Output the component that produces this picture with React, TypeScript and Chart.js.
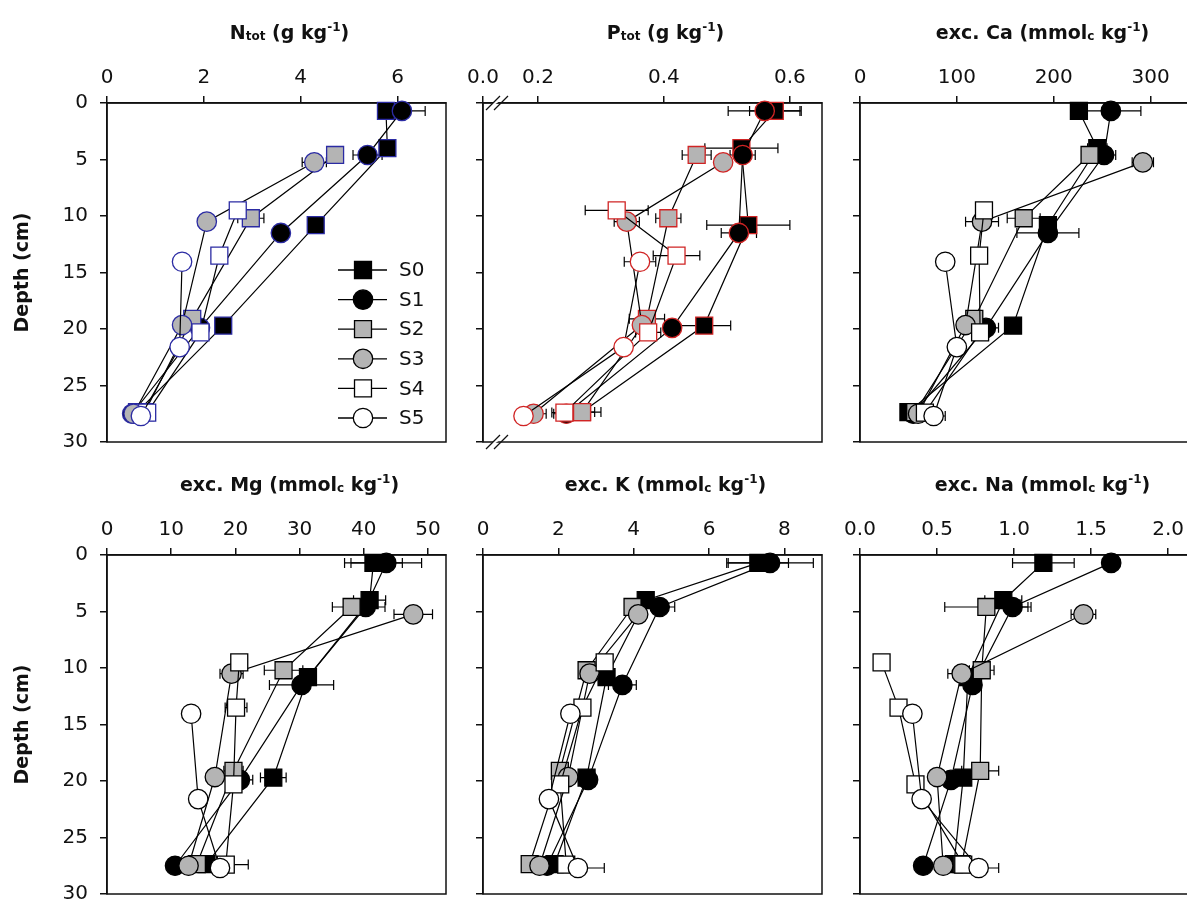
import React, { useEffect, useRef } from "react";
import { Chart, registerables } from "chart.js";

Chart.register(...registerables);

const FONT = "'DejaVu Sans', 'Liberation Sans', sans-serif";
const INK = "#111111";

const seriesNames = ["S0", "S1", "S2", "S3", "S4", "S5"];
const seriesFill = ["#000000", "#000000", "#b4b4b4", "#b4b4b4", "#ffffff", "#ffffff"];
const seriesShape = ["rect", "circle", "rect", "circle", "rect", "circle"];

// sampling depth (cm) of every horizon, per profile
const depthS = [
  [0.7, 4.0, 10.8, 19.7, 27.35],
  [0.7, 4.6, 11.5, 19.9, 27.5],
  [4.6, 10.2, 19.1, 27.35],
  [5.25, 10.5, 19.65, 27.5],
  [9.5, 13.5, 20.3, 27.4],
  [14.05, 21.6, 27.7],
];

// total N (g kg-1)
const nTotMean = [
  [5.76, 5.79, 4.31, 2.4, 0.62],
  [6.09, 5.38, 3.59, 1.92, 0.52],
  [4.71, 2.97, 1.76, 0.78],
  [4.28, 2.06, 1.55, 0.55],
  [2.7, 2.32, 1.93, 0.83],
  [1.55, 1.5, 0.7],
];
const nTotErr = [
  [0.1, 0.1, 0, 0, 0],
  [0.48, 0.3, 0.1, 0, 0],
  [0.1, 0.27, 0.1, 0],
  [0.25, 0.1, 0.17, 0],
  [0, 0, 0, 0],
  [0, 0, 0],
];

// total P (g kg-1)
const pTotMean = [
  [0.576, 0.523, 0.534, 0.464, 0.27],
  [0.56, 0.525, 0.519, 0.413, 0.245],
  [0.452, 0.407, 0.373, 0.27],
  [0.494, 0.341, 0.365, 0.193],
  [0.325, 0.42, 0.375, 0.242],
  [0.362, 0.336, 0.177],
];
const pTotErr = [
  [0.04, 0.058, 0.066, 0.042, 0.02],
  [0.058, 0.02, 0.028, 0.01, 0.02],
  [0.023, 0.02, 0.028, 0.03],
  [0.01, 0.02, 0.01, 0.02],
  [0.05, 0.037, 0.02, 0.02],
  [0.025, 0.01, 0.01],
];

// exchangeable Ca (mmolc kg-1)
const caMean = [
  [226, 245, 194, 158, 50],
  [259, 252, 194, 130, 55],
  [237, 169, 118, 57],
  [292, 126, 109, 60],
  [128, 123, 124, 67],
  [88, 100, 76],
];
const caErr = [
  [0, 10, 0, 0, 0],
  [31, 12, 32, 13, 0],
  [8, 17, 0, 0],
  [11, 17, 0, 0],
  [0, 0, 0, 0],
  [8, 0, 12],
];

// exchangeable Mg (mmolc kg-1)
const mgMean = [
  [41.5, 40.9, 31.3, 25.9, 15.5],
  [43.5, 40.3, 30.3, 20.7, 10.6],
  [38.1, 27.5, 19.7, 14.0],
  [47.7, 19.4, 16.8, 12.7],
  [20.6, 20.1, 19.7, 18.5],
  [13.1, 14.2, 17.6],
];
const mgErr = [
  [4.5, 2.5, 0, 2, 0],
  [5.5, 3, 5, 2, 0],
  [3, 3, 1.5, 0],
  [3, 1.8, 0, 0],
  [0, 1.7, 0, 3.5],
  [0, 0, 0],
];

// exchangeable K (mmolc kg-1)
const kMean = [
  [7.31, 4.32, 3.28, 2.75, 1.9],
  [7.62, 4.69, 3.7, 2.79, 1.7],
  [3.97, 2.75, 2.04, 1.24],
  [4.12, 2.83, 2.26, 1.5],
  [3.23, 2.64, 2.05, 2.21],
  [2.32, 1.75, 2.52],
];
const kErr = [
  [0.8, 0, 0, 0, 0],
  [1.15, 0.4, 0.37, 0, 0],
  [0, 0, 0, 0],
  [0, 0, 0, 0],
  [0, 0, 0, 0],
  [0, 0, 0.7],
];

// exchangeable Na (mmolc kg-1)
const naMean = [
  [1.19, 0.93, 0.7, 0.67, 0.61],
  [1.63, 0.99, 0.73, 0.59, 0.41],
  [0.82, 0.79, 0.78, 0.66],
  [1.45, 0.66, 0.5, 0.54],
  [0.14, 0.25, 0.36, 0.67],
  [0.34, 0.4, 0.77],
];
const naErr = [
  [0.2, 0.12, 0, 0, 0],
  [0.05, 0.12, 0, 0, 0],
  [0.27, 0.08, 0.12, 0],
  [0.08, 0.09, 0, 0],
  [0, 0, 0, 0],
  [0, 0, 0.13],
];

const depthTicks = [0, 5, 10, 15, 20, 25, 30];
const pTickValues = [0.2, 0.4, 0.6];
const P_AXIS_MIN = 0.1127; // left end of the broken axis, labelled 0.0

type Part = [string, "m" | "sub" | "sup"];

const titleN: Part[] = [["N", "m"], ["tot", "sub"], [" (g kg", "m"], ["-1", "sup"], [")", "m"]];
const titleP: Part[] = [["P", "m"], ["tot", "sub"], [" (g kg", "m"], ["-1", "sup"], [")", "m"]];
const excTitle = (el: string): Part[] => [
  ["exc. " + el + " (mmol", "m"], ["c", "sub"], [" kg", "m"], ["-1", "sup"], [")", "m"],
];

interface PanelDef {
  title: Part[];
  mean: number[][];
  err: number[][];
  min: number;
  max: number;
  step: number;
  dec: number;
  edge: string;
  col: number;
  row: number;
  legend?: boolean;
  broken?: boolean;
}

const panels: PanelDef[] = [
  { title: titleN, mean: nTotMean, err: nTotErr, min: 0, max: 7, step: 2, dec: 0, edge: "#2b2ba3", col: 0, row: 0, legend: true },
  { title: titleP, mean: pTotMean, err: pTotErr, min: P_AXIS_MIN, max: 0.651, step: 0.2, dec: 1, edge: "#d02424", col: 1, row: 0, broken: true },
  { title: excTitle("Ca"), mean: caMean, err: caErr, min: 0, max: 350, step: 100, dec: 0, edge: "#000000", col: 2, row: 0 },
  { title: excTitle("Mg"), mean: mgMean, err: mgErr, min: 0, max: 52.8, step: 10, dec: 0, edge: "#000000", col: 0, row: 1 },
  { title: excTitle("K"), mean: kMean, err: kErr, min: 0, max: 9, step: 2, dec: 0, edge: "#000000", col: 1, row: 1 },
  { title: excTitle("Na"), mean: naMean, err: naErr, min: 0, max: 2.2, step: 0.5, dec: 1, edge: "#000000", col: 2, row: 1 },
];

// plot box geometry
const BOX = 339;
const COL_LEFT = [107, 483, 860];
const ROW_TOP = [103, 555];
const AXIS_W = 107;
const AXIS_H = 103;
const CANVAS_W = 470;
const CANVAS_H = 470;
const RECT_R = 12;
const CIRCLE_R = 9.7;

function drawMarker(ctx: CanvasRenderingContext2D, shape: string, x: number, y: number, fill: string, edge: string) {
  ctx.beginPath();
  if (shape === "rect") {
    const s = RECT_R * Math.SQRT1_2;
    ctx.rect(x - s, y - s, 2 * s, 2 * s);
  } else {
    ctx.arc(x, y, CIRCLE_R, 0, Math.PI * 2);
  }
  ctx.fillStyle = fill;
  ctx.fill();
  ctx.lineWidth = 1.3;
  ctx.strokeStyle = edge;
  ctx.stroke();
}

function makeDecor(p: PanelDef) {
  return {
    id: "panelDecor",
    beforeDatasetsDraw(chart: any) {
      const { ctx, chartArea: a, scales } = chart;
      ctx.save();
      ctx.strokeStyle = INK;
      ctx.lineWidth = 1.5;
      ctx.strokeRect(a.left, a.top, a.right - a.left, a.bottom - a.top);
      // horizontal error bars with caps
      ctx.strokeStyle = "#000";
      ctx.lineWidth = 1.2;
      p.mean.forEach((vals, si) => {
        vals.forEach((v, j) => {
          const e = p.err[si][j];
          if (!e) return;
          const y = scales.y.getPixelForValue(depthS[si][j]);
          const x1 = scales.x.getPixelForValue(v - e);
          const x2 = scales.x.getPixelForValue(v + e);
          ctx.beginPath();
          ctx.moveTo(x1, y);
          ctx.lineTo(x2, y);
          ctx.moveTo(x1, y - 5);
          ctx.lineTo(x1, y + 5);
          ctx.moveTo(x2, y - 5);
          ctx.lineTo(x2, y + 5);
          ctx.stroke();
        });
      });
      ctx.restore();
    },
    afterDraw(chart: any) {
      const { ctx, chartArea: a } = chart;
      ctx.save();

      // axis break marks on the top and bottom edges
      if (p.broken) {
        [a.top, a.bottom].forEach((yy: number) => {
          const x0 = a.left + 3;
          ctx.beginPath();
          ctx.moveTo(x0 + 4, yy + 2);
          ctx.lineTo(x0 + 10, yy - 2);
          ctx.lineTo(x0 + 14, yy - 2);
          ctx.lineTo(x0 + 8, yy + 2);
          ctx.closePath();
          ctx.fillStyle = "#fff";
          ctx.fill();
          ctx.strokeStyle = INK;
          ctx.lineWidth = 1.3;
          ctx.beginPath();
          ctx.moveTo(x0, yy + 7);
          ctx.lineTo(x0 + 14, yy - 7);
          ctx.moveTo(x0 + 8, yy + 7);
          ctx.lineTo(x0 + 22, yy - 7);
          ctx.stroke();
        });
      }

      // panel title with sub/superscripts
      const fonts: Record<string, string> = {
        m: `bold 19px ${FONT}`,
        sub: `bold 12px ${FONT}`,
        sup: `bold 12px ${FONT}`,
      };
      const shift: Record<string, number> = { m: 0, sub: 1, sup: -8 };
      let total = 0;
      p.title.forEach(([t, k]) => {
        ctx.font = fonts[k];
        total += ctx.measureText(t).width;
      });
      let x = (a.left + a.right) / 2 + 13 - total / 2;
      const base = a.top - 64;
      ctx.fillStyle = INK;
      ctx.textBaseline = "alphabetic";
      ctx.textAlign = "left";
      p.title.forEach(([t, k]) => {
        ctx.font = fonts[k];
        ctx.fillText(t, x, base + shift[k]);
        x += ctx.measureText(t).width;
      });

      // series legend inside the first panel
      if (p.legend) {
        const lx = a.left + 231;
        const mx = a.left + 256;
        const tx = a.left + 292;
        seriesNames.forEach((name, i) => {
          const y = a.top + 167 + i * 29.6;
          ctx.strokeStyle = "#000";
          ctx.lineWidth = 1.3;
          ctx.beginPath();
          ctx.moveTo(lx, y);
          ctx.lineTo(lx + 49, y);
          ctx.stroke();
          drawMarker(ctx, seriesShape[i], mx, y, seriesFill[i], "#000");
          ctx.fillStyle = INK;
          ctx.font = `20px ${FONT}`;
          ctx.textBaseline = "middle";
          ctx.fillText(name, tx, y + 1);
        });
      }
      ctx.restore();
    },
  };
}

function buildConfig(p: PanelDef): any {
  const firstCol = p.col === 0;
  const datasets = p.mean.map((vals, si) => ({
    label: seriesNames[si],
    data: vals.map((v, j) => ({ x: v, y: depthS[si][j] })),
    showLine: true,
    borderColor: "#000",
    borderWidth: 1.2,
    pointStyle: seriesShape[si],
    pointRadius: seriesShape[si] === "rect" ? RECT_R : CIRCLE_R,
    pointHoverRadius: seriesShape[si] === "rect" ? RECT_R : CIRCLE_R,
    pointBackgroundColor: seriesFill[si],
    pointBorderColor: p.edge,
    pointBorderWidth: 1.3,
    order: 5 - si,
    clip: false,
  }));

  const xScale: any = {
    type: "linear",
    position: "top",
    min: p.min,
    max: p.max,
    afterFit: (s: any) => {
      s.height = AXIS_H;
    },
    ticks: {
      stepSize: p.step,
      includeBounds: false,
      autoSkip: false,
      maxRotation: 0,
      padding: 6,
      color: INK,
      font: { family: FONT, size: 20 },
      callback: (v: number) => (p.broken && v < 0.15 ? "0.0" : Number(v).toFixed(p.dec)),
    },
    grid: { drawOnChartArea: false, drawTicks: true, tickLength: 7, color: INK, lineWidth: 1.5 },
    border: { display: true, color: INK, width: 1.5 },
  };
  if (p.broken) {
    xScale.afterBuildTicks = (s: any) => {
      s.ticks = [{ value: P_AXIS_MIN }, ...pTickValues.map((v) => ({ value: v }))];
    };
  }

  return {
    type: "scatter",
    data: { datasets },
    options: {
      responsive: false,
      animation: false,
      devicePixelRatio: 1,
      events: [],
      layout: { padding: { left: 0, top: 0, right: CANVAS_W - AXIS_W - BOX, bottom: CANVAS_H - AXIS_H - BOX } },
      plugins: { legend: { display: false }, tooltip: { enabled: false }, title: { display: false } },
      scales: {
        x: xScale,
        y: {
          type: "linear",
          position: "left",
          reverse: true,
          min: 0,
          max: 30,
          afterFit: (s: any) => {
            s.width = AXIS_W;
          },
          afterBuildTicks: (s: any) => {
            s.ticks = depthTicks.map((v) => ({ value: v }));
          },
          ticks: {
            autoSkip: false,
            padding: 12,
            color: INK,
            font: { family: FONT, size: 20 },
            callback: (v: number) => (firstCol ? String(v) : ""),
          },
          grid: { drawOnChartArea: false, drawTicks: true, tickLength: 7, color: INK, lineWidth: 1.5 },
          border: { display: true, color: INK, width: 1.5 },
          title: {
            display: firstCol,
            text: "Depth (cm)",
            color: INK,
            font: { family: FONT, size: 19, weight: "bold" },
            padding: { top: 12, bottom: 0 },
          },
        },
      },
    },
    plugins: [makeDecor(p)],
  };
}

function Panel({ p }: { p: PanelDef }) {
  const ref = useRef<HTMLCanvasElement | null>(null);
  useEffect(() => {
    if (!ref.current) return;
    const chart = new Chart(ref.current, buildConfig(p));
    return () => chart.destroy();
  }, [p]);
  return (
    <canvas
      ref={ref}
      width={CANVAS_W}
      height={CANVAS_H}
      style={{
        position: "absolute",
        left: COL_LEFT[p.col] - AXIS_W,
        top: ROW_TOP[p.row] - AXIS_H,
        width: CANVAS_W,
        height: CANVAS_H,
      }}
    />
  );
}

export default function App() {
  return (
    <div
      style={{
        position: "absolute",
        left: 0,
        top: 0,
        width: 1187,
        height: 901,
        overflow: "hidden",
        background: "#ffffff",
      }}
    >
      {panels.map((p, i) => (
        <Panel key={i} p={p} />
      ))}
    </div>
  );
}
